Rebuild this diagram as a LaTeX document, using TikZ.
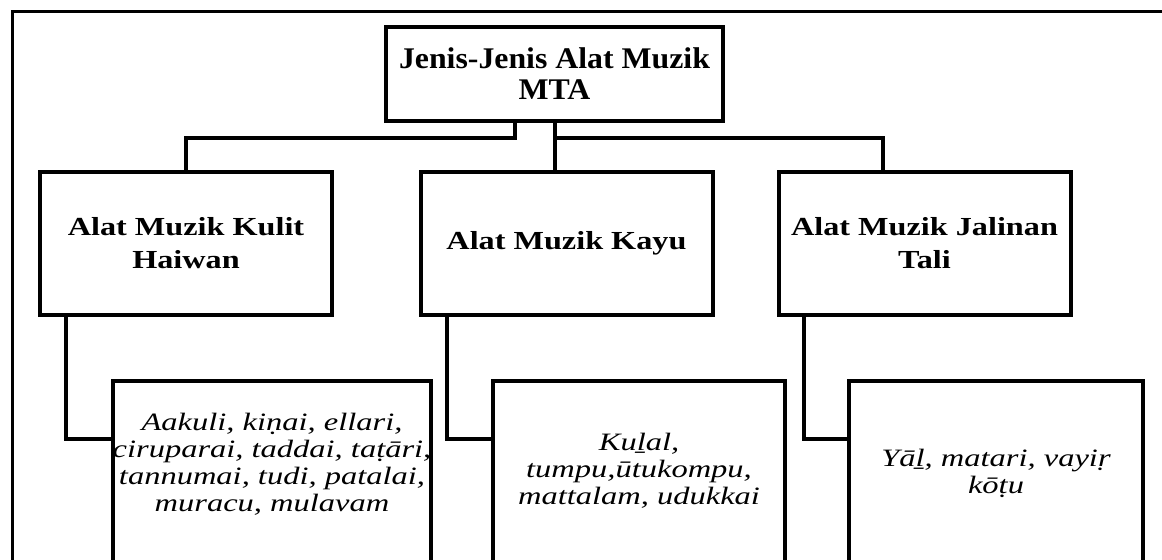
\documentclass[tikz,border=0pt]{standalone}
\usepackage{fontspec}
\setmainfont{Liberation Serif}
\newfontfamily\titlefont{Liberation Serif}[FakeStretch=1.06]
\newfontfamily\groupfont{Liberation Serif}[FakeStretch=1.24]
\newfontfamily\listfont{Liberation Serif}[FakeStretch=1.3]
\usepackage{tikz}
\usetikzlibrary{positioning}

\begin{document}
\begin{tikzpicture}[x=1bp, y=-1bp, node distance=167.5bp]
\tikzstyle{titlebox} = [rectangle, minimum width=337bp, minimum height=94bp, align=center, draw=black, line width=4bp, font=\titlefont\bfseries\fontsize{30bp}{31bp}\selectfont]
\tikzstyle{groupbox} = [rectangle, minimum width=292bp, minimum height=143bp, align=center, draw=black, line width=4bp, font=\groupfont\bfseries\fontsize{26bp}{33bp}\selectfont]
\tikzstyle{listbox} = [rectangle, minimum height=236bp, draw=black, line width=4bp]
\tikzstyle{listtext} = [align=center, inner sep=0pt, font=\listfont\itshape\fontsize{25bp}{27bp}\selectfont]
\tikzstyle{line} = [draw, line width=4bp]
\tikzstyle{frame} = [draw, line width=3bp]

\useasboundingbox (0,0) rectangle (1162,560);
\clip (0,0) rectangle (1162,560);
\path [frame] (12,12) rectangle (1300,700);

\node (title) [titlebox] at (554.5,74) {Jenis-Jenis Alat Muzik\\MTA};
\node (kayu) [groupbox, below of=title, xshift=12bp, yshift=-2bp] {Alat Muzik Kayu};
\node (kulit) [groupbox, left of=kayu, xshift=-213bp] {Alat Muzik Kulit\\Haiwan};
\node (tali) [groupbox, right of=kayu, xshift=190.5bp] {Alat Muzik Jalinan\\Tali};

\node (kulitlist) [listbox, minimum width=318bp, below of=kulit, xshift=86bp, yshift=-88bp] {};
\node (kayulist) [listbox, minimum width=292bp, below of=kayu, xshift=72.5bp, yshift=-88bp] {};
\node (talilist) [listbox, minimum width=294bp, below of=tali, xshift=71.5bp, yshift=-88bp] {};

\node (kulittext) [listtext] at ([yshift=-85bp]kulitlist.north) {Aakuli, kiṇai, ellari,\\ciruparai, taddai, taṭāri,\\tannumai, tudi, patalai,\\muracu, mulavam};
\node (kayutext) [listtext] at ([yshift=-92bp]kayulist.north) {Kuḻal,\\tumpu,ūtukompu,\\mattalam, udukkai};
\node (talitext) [listtext] at ([yshift=-94bp]talilist.north) {Yāḻ, matari, vayiṛ\\kōṭu};

% top level
\coordinate (split) at ([yshift=-15bp]title.south);
\path [line] ([xshift=-39.5bp]title.south) -- ([xshift=-39.5bp]split) -| (kulit.north);
\path [line] (title.south) -- (title.south |- kayu.north);
\path [line] (split) -| ([xshift=-41.5bp]tali.north);

% lists
\path [line] ([xshift=28bp]kulit.south west) |- ([yshift=-60bp]kulitlist.north west);
\path [line] ([xshift=28bp]kayu.south west) |- ([yshift=-60bp]kayulist.north west);
\path [line] ([xshift=27bp]tali.south west) |- ([yshift=-60bp]talilist.north west);

\end{tikzpicture}
\end{document}
